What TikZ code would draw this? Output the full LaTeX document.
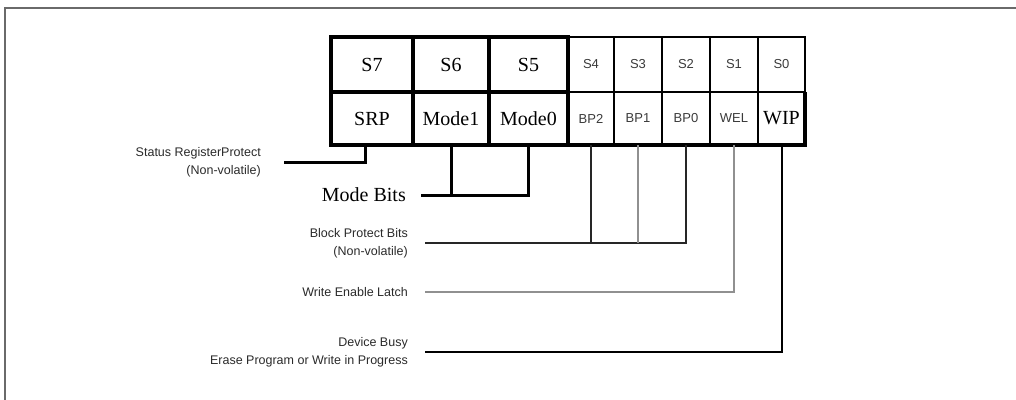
\documentclass[tikz,border=0pt]{standalone}
\usepackage{fontspec}
\setmainfont{Liberation Serif}
\newfontfamily\descfont{Liberation Sans}
\usetikzlibrary{positioning,calc}
\definecolor{colorframe}{HTML}{6A6A6A}
\definecolor{colorsmall}{HTML}{3A3A3A}
\definecolor{colordesc}{HTML}{2A2A2A}
\definecolor{colorwire}{HTML}{909090}
\tikzset{
  bigcell/.style={draw, line width=3.5pt, anchor=north west, inner sep=0pt, outer sep=0pt,
    font=\fontsize{20}{20}\selectfont},
  smallcell/.style={draw, line width=2.5pt, anchor=north west, inner sep=0pt, outer sep=0pt,
    text=colorsmall, font=\descfont\fontsize{13}{13}\selectfont},
  desc/.style={anchor=east, align=right, inner sep=0pt, text=colordesc,
    font=\descfont\fontsize{12.5}{18}\selectfont},
  wirethick/.style={black, line width=3pt},
  wirethin/.style={black!85, line width=1.5pt},
  wiregray/.style={colorwire, line width=1.5pt},
  wirebusy/.style={black, line width=2pt}
}
\newcommand\nonvol{(Non-volatile)}

\begin{document}
\begin{tikzpicture}[x=1pt, y=-1pt]
\useasboundingbox (0,0) rectangle (1016,399);
\draw[colorframe, line width=2pt] (5,405) |- (1025,8);

% top row
\node[bigcell, minimum width=82pt, minimum height=55pt](s7) at (331,37) {S7};
\node[bigcell, minimum width=76pt, minimum height=55pt, right=0pt of s7](s6) {S6};
\node[bigcell, minimum width=79pt, minimum height=55pt, right=0pt of s6](s5) {S5};
\node[smallcell, minimum width=46pt, minimum height=55pt, right=0pt of s5](s4) {S4};
\node[smallcell, minimum width=48pt, minimum height=55pt, right=0pt of s4](s3) {S3};
\node[smallcell, minimum width=48pt, minimum height=55pt, right=0pt of s3](s2) {S2};
\node[smallcell, minimum width=48pt, minimum height=55pt, right=0pt of s2](s1) {S1};
\node[smallcell, minimum width=47pt, minimum height=55pt, right=0pt of s1](s0) {S0};

% bottom row
\node[bigcell, minimum width=82pt, minimum height=53pt, below=0pt of s7](srp) {SRP};
\node[bigcell, minimum width=76pt, minimum height=53pt, below=0pt of s6](modeone) {Mode1};
\node[bigcell, minimum width=79pt, minimum height=53pt, below=0pt of s5](modezero) {Mode0};
\node[smallcell, minimum width=46pt, minimum height=53pt, below=0pt of s4](bptwo) {BP2};
\node[smallcell, minimum width=48pt, minimum height=53pt, below=0pt of s3](bpone) {BP1};
\node[smallcell, minimum width=48pt, minimum height=53pt, below=0pt of s2](bpzero) {BP0};
\node[smallcell, minimum width=48pt, minimum height=53pt, below=0pt of s1](wel) {WEL};
\node[smallcell, minimum width=47pt, minimum height=53pt, below=0pt of s0,
  text=black, font=\fontsize{20}{20}\selectfont](wip) {WIP};
\draw[line width=3.5pt] (bptwo.south west) -- (wip.south east) -- (wip.north east);

% descriptions
\node[desc](srpdesc) at (261,162) {Status RegisterProtect\\\nonvol};
\node[anchor=east, inner sep=0pt, font=\fontsize{20}{20}\selectfont](modedesc) at (406,195)
{Mode Bits};
\node[desc](bpdesc) at (408,243) {Block Protect Bits\\\nonvol};
\node[desc](weldesc) at (408,292) {Write Enable Latch};
\node[desc](busydesc) at (408,352) {Device Busy\\Erase Program or Write in Progress};

\draw[wirethick] ([xshift=-7pt]srp.south) |- ([xshift=23pt]srpdesc.east);

\draw[wirethick] ([xshift=15pt]modedesc.east) -| (modezero.south);
\draw[wirethick] (modeone.south) -- (modeone.south |- modedesc.east);

\draw[wirethin] ([xshift=17pt]bpdesc.east) -| (bpzero.south);
\draw[wirethin] (bptwo.south) -- (bptwo.south |- bpdesc.east);
\draw[wiregray] (bpone.south) -- (bpone.south |- bpdesc.east);

\draw[wiregray] ([xshift=17pt]weldesc.east) -| (wel.south);

\draw[wirebusy] ([xshift=17pt]busydesc.east) -| (wip.south);
\end{tikzpicture}
\end{document}
